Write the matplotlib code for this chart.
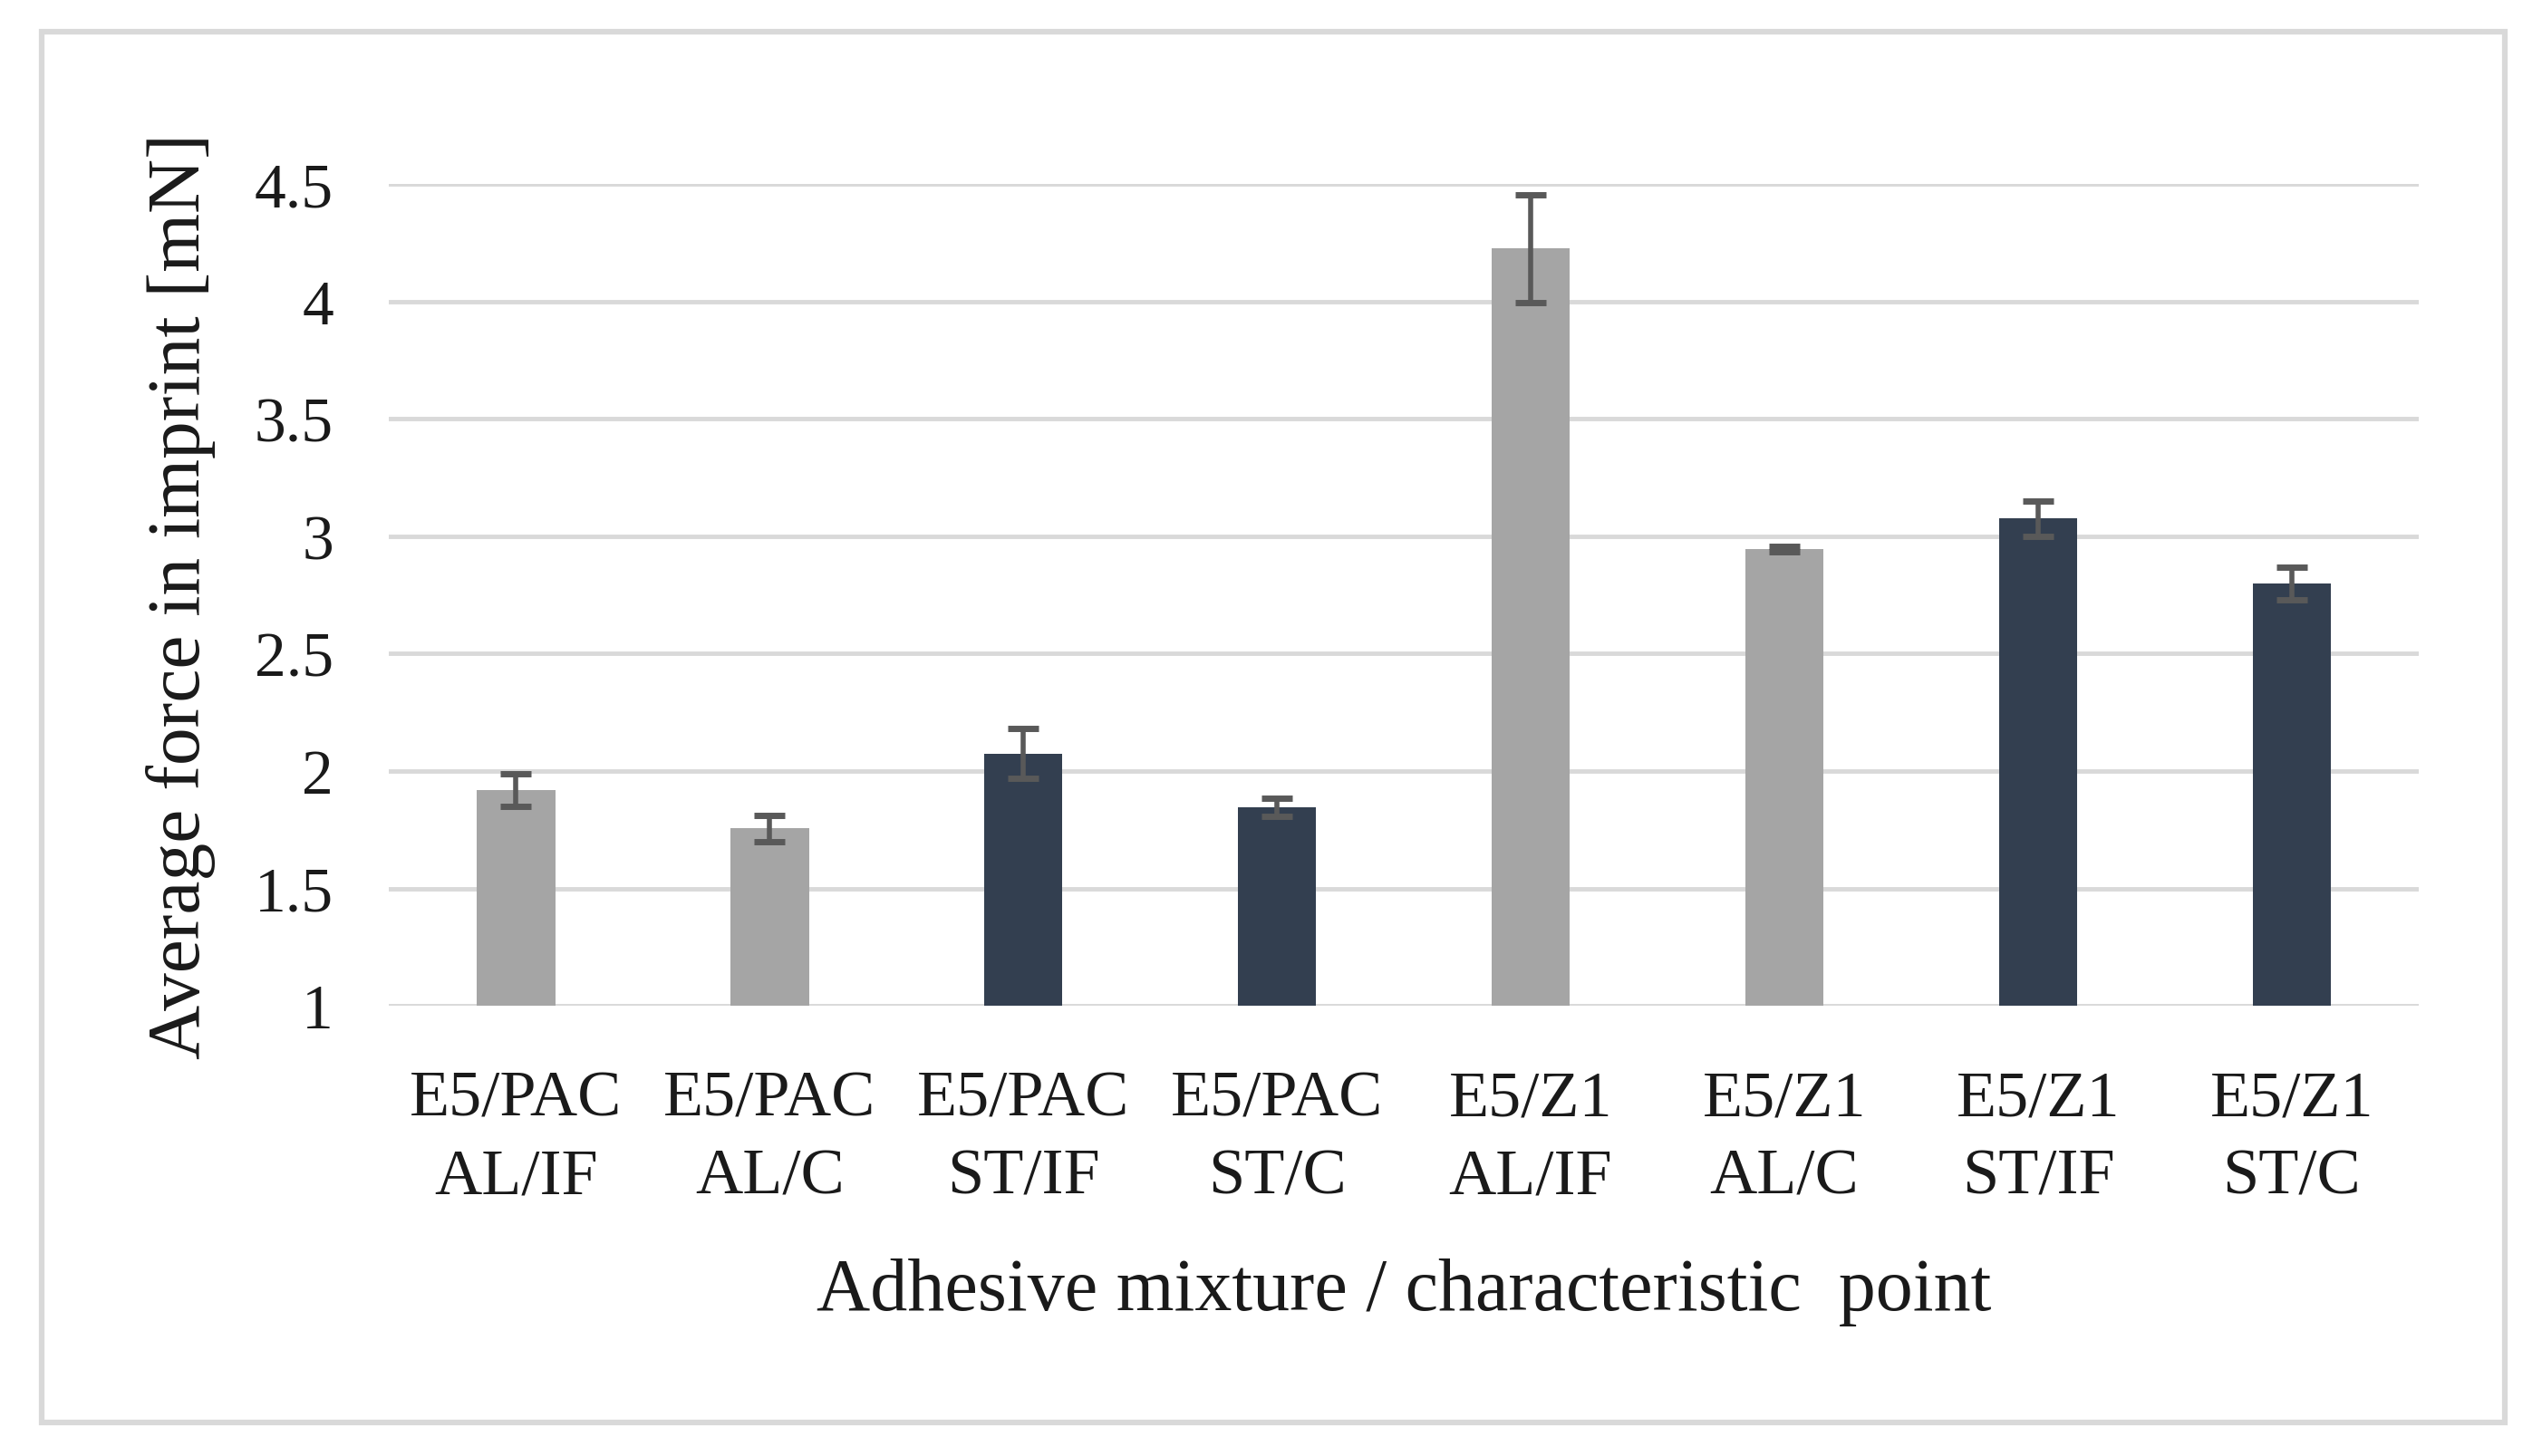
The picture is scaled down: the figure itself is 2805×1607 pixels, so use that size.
import matplotlib
matplotlib.use("Agg")
import matplotlib.pyplot as plt
from matplotlib.patches import Rectangle
import numpy as np

# data
categories = ["E5/PAC\nAL/IF", "E5/PAC\nAL/C", "E5/PAC\nST/IF", "E5/PAC\nST/C",
              "E5/Z1\nAL/IF", "E5/Z1\nAL/C", "E5/Z1\nST/IF", "E5/Z1\nST/C"]
force = [1.92, 1.755, 2.075, 1.845, 4.225, 2.945, 3.075, 2.80]
force_err = [0.07, 0.055, 0.107, 0.038, 0.228, 0.012, 0.077, 0.07]
point_type = ["AL", "AL", "ST", "ST", "AL", "AL", "ST", "ST"]
yticks = [1, 1.5, 2, 2.5, 3, 3.5, 4, 4.5]

colors = {"AL": "#A5A5A5", "ST": "#333F50"}

plt.rcParams['font.family'] = ['Liberation Serif', 'DejaVu Serif']

fig = plt.figure(figsize=(28.05, 16.08), dpi=100)
ax = fig.add_axes([0.153, 0.309, 0.7985, 0.564])

x = np.arange(len(categories))
ax.bar(x, force, width=0.31, color=[colors[p] for p in point_type], zorder=2)
ax.errorbar(x, force, yerr=force_err, fmt="none", ecolor="#595959",
            elinewidth=4, capsize=12.5, capthick=5, zorder=3)

ax.set_xlim(-0.5, len(categories) - 0.5)
ax.set_ylim(1, 4.5)
ax.set_yticks(yticks)
ax.set_yticklabels([f"{t:g}" for t in yticks], fontsize=50)
ax.set_xticks(x)
ax.set_xticklabels(categories, linespacing=1.42, fontsize=52)
ax.yaxis.grid(True, color="#D9D9D9", linewidth=3.5, zorder=0)
ax.set_axisbelow(True)
for s in ax.spines.values():
    s.set_visible(False)
ax.tick_params(axis="both", length=0, colors="#1a1a1a")
ax.tick_params(axis="y", pad=44)
ax.tick_params(axis="x", pad=51)

ax.set_ylabel("Average force in imprint [mN]", fontsize=60, labelpad=31, color="#1a1a1a")
ax.set_xlabel("Adhesive mixture / characteristic  point", fontsize=59, labelpad=40, color="#1a1a1a")

fig.patches.append(Rectangle((46 / 2805, 1 - 1571 / 1608), (2764 - 46) / 2805,
                             (1571 - 36) / 1608, transform=fig.transFigure,
                             fill=False, edgecolor="#D9D9D9", linewidth=4.5))

fig.savefig("out.png", dpi=100, facecolor="white")
